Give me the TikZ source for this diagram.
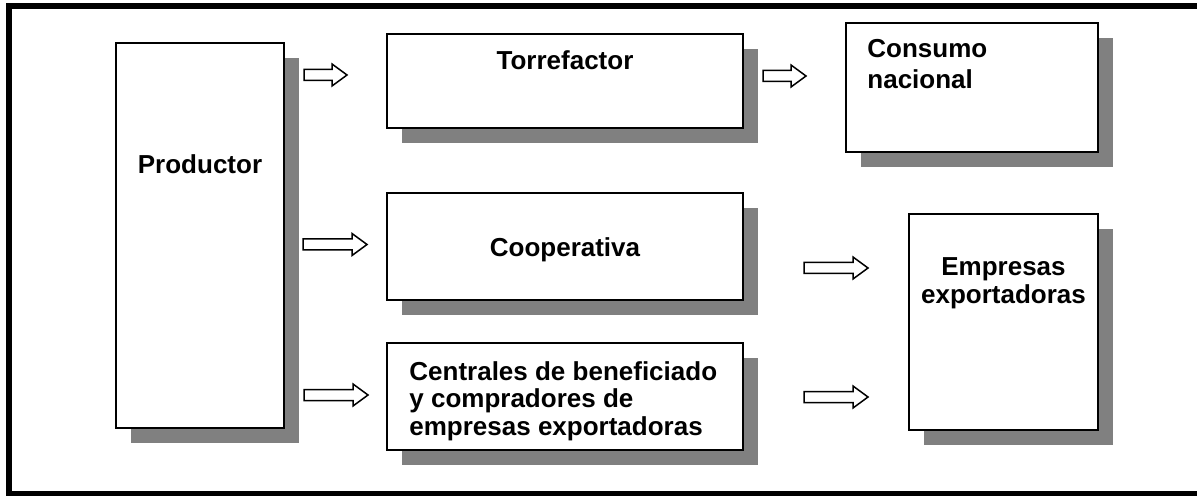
\documentclass[tikz,border=0pt]{standalone}
\usepackage{fontspec}
\setmainfont{Liberation Sans}
\usetikzlibrary{shadows}
\definecolor{shadowgray}{RGB}{128,128,128}
\tikzset{
  box/.style={draw=black, line width=1pt, fill=white, inner sep=0pt,
    drop shadow={shadow xshift=7.5pt, shadow yshift=-7.5pt, fill=shadowgray, opacity=1}},
  txt/.style={inner sep=0pt, text=black},
  fnt/.style={font={\fontsize{13}{#1}\selectfont\bfseries}},
  pics/barrow/.style={code={
    \draw[line width=0.75pt, fill=white, line join=miter]
      (0,-5.5) -- (#1-15,-5.5) -- (#1-15,-11) -- (#1,0) -- (#1-15,11)
      -- (#1-15,5.5) -- (0,5.5) -- cycle;
  }}
}
\begin{document}
\begin{tikzpicture}[x=0.5pt,y=-0.5pt]
\useasboundingbox (0,0) rectangle (1197,496);
\clip (0,0) rectangle (1197,496);
\fill[white] (0,0) rectangle (1197,496);
% outer frame (its right side lies beyond the picture)
\draw[line width=3pt] (1220,6) -- (9,6) -- (9,494) -- (1220,494);
% boxes
\node[box, minimum width=84pt,  minimum height=192.5pt] (prod) at (200,235.5) {};
\node[box, minimum width=178pt, minimum height=47pt]    (torr) at (565,81) {};
\node[box, minimum width=178pt, minimum height=53.5pt]  (coop) at (565,246.5) {};
\node[box, minimum width=178pt, minimum height=53.5pt]  (cent) at (565,396.5) {};
\node[box, minimum width=126pt, minimum height=64.5pt]  (cons) at (972,87.5) {};
\node[box, minimum width=94.5pt, minimum height=108pt]  (empr) at (1003.5,322) {};
% texts (a multi-line node's base is its last line's baseline)
\node[txt, fnt=15pt, anchor=base] (prodT) at (200,174) {Productor};
\node[txt, fnt=15pt, anchor=base] (torrT) at (565,70) {Torrefactor};
\node[txt, fnt=15pt, anchor=base] (coopT) at (565,257) {Cooperativa};
\node[txt, fnt=15.5pt, align=left, anchor=base west] (consT) at (867,88.5) {Consumo\\nacional};
\node[txt, fnt=14pt, align=center, anchor=base] (emprT) at (1003.5,304) {Empresas\\exportadoras};
\node[txt, fnt=13.85pt, align=left, anchor=base west] (centT) at (409,435.5) {Centrales de beneficiado\\y compradores de\\empresas exportadoras};
% block arrows
\pic (a1) at (304,75)  {barrow=43};
\pic (a2) at (303,244.5) {barrow=64};
\pic (a3) at (304,395) {barrow=64};
\pic (a4) at (763,76)  {barrow=43};
\pic (a5) at (804,268) {barrow=64};
\pic (a6) at (804,397) {barrow=64};
\end{tikzpicture}
\end{document}
